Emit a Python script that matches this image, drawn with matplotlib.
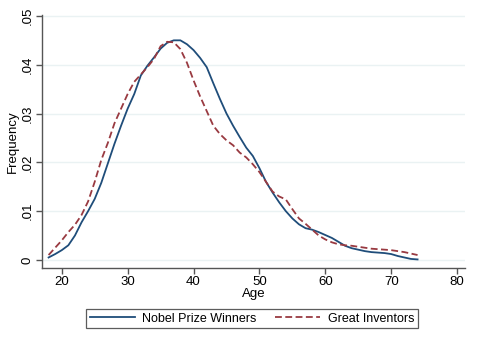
import matplotlib
matplotlib.use("Agg")
import matplotlib.pyplot as plt
from matplotlib.lines import Line2D

# Age grid and densities
ages = list(range(18, 75))
nobel = [
    0.0005, 0.0012, 0.0020, 0.0030, 0.0050, 0.0077, 0.0100, 0.0125, 0.0158, 0.0198,
    0.0238, 0.0275, 0.0310, 0.0340, 0.0378, 0.0398, 0.0415, 0.0433, 0.0445, 0.0450,
    0.0450, 0.0442, 0.0430, 0.0414, 0.0395, 0.0362, 0.0330, 0.0300, 0.0275, 0.0252,
    0.0230, 0.0213, 0.0188, 0.0160, 0.0138, 0.0118, 0.0100, 0.0085, 0.0073, 0.0065,
    0.0062, 0.0057, 0.0051, 0.0045, 0.0037, 0.0029, 0.0024, 0.0021, 0.0018, 0.0016,
    0.0015, 0.0014, 0.0012, 0.0008, 0.0005, 0.0002, 0.0001,
]
inventors = [
    0.0010, 0.0025, 0.0040, 0.0057, 0.0072, 0.0092, 0.0120, 0.0160, 0.0205, 0.0240,
    0.0280, 0.0310, 0.0340, 0.0365, 0.0380, 0.0395, 0.0412, 0.0438, 0.0447, 0.0446,
    0.0432, 0.0404, 0.0368, 0.0335, 0.0305, 0.0275, 0.0258, 0.0245, 0.0235, 0.0220,
    0.0210, 0.0196, 0.0180, 0.0160, 0.0140, 0.0130, 0.0124, 0.0104, 0.0085, 0.0074,
    0.0062, 0.0050, 0.0042, 0.0036, 0.0032, 0.0030, 0.0029, 0.0027, 0.0025, 0.0023,
    0.0022, 0.0021, 0.0020, 0.0018, 0.0016, 0.0013, 0.0010,
]
x_ticks = [20, 30, 40, 50, 60, 70, 80]
y_ticks = [0, 0.01, 0.02, 0.03, 0.04, 0.05]
y_tick_labels = ["0", ".01", ".02", ".03", ".04", ".05"]

NAVY = "#1f4d7a"
MAROON = "#993a41"
GRID = "#eaf2f3"
AXIS = "#555555"
DASH = (0, (3.8, 1.9))

plt.rcParams["font.family"] = ["Liberation Sans", "DejaVu Sans"]

fig = plt.figure(figsize=(5.0, 3.4), dpi=100, facecolor="white")
ax = fig.add_axes([0.084, 0.212, 0.846, 0.744])

ax.plot(ages, nobel, color=NAVY, linewidth=1.3, solid_joinstyle="round")
ax.plot(ages, inventors, color=MAROON, linewidth=1.3, linestyle=DASH)

ax.set_xlim(17.0, 81.2)
ax.set_ylim(-0.00164, 0.0502)
ax.set_xticks(x_ticks)
ax.set_yticks(y_ticks)
ax.set_yticklabels(y_tick_labels, rotation=90, va="center")
ax.grid(axis="y", color=GRID, linewidth=1.0)
ax.set_axisbelow(True)

for side in ["top", "right"]:
    ax.spines[side].set_visible(False)
for side in ["left", "bottom"]:
    ax.spines[side].set_color(AXIS)
    ax.spines[side].set_linewidth(1.0)
ax.tick_params(axis="both", colors=AXIS, labelcolor="black", labelsize=9.5,
               length=4, width=1.0, pad=2)

ax.set_xlabel("Age", fontsize=9.5, labelpad=0)
ax.set_ylabel("Frequency", fontsize=9.5, labelpad=2)

handles = [
    Line2D([], [], color=NAVY, linewidth=1.3),
    Line2D([], [], color=MAROON, linewidth=1.3, linestyle=DASH),
]
leg = fig.legend(handles, ["Nobel Prize Winners", "Great Inventors"],
                 loc="center", bbox_to_anchor=(0.504, 0.063), ncol=2,
                 fontsize=9, frameon=True, fancybox=False,
                 handlelength=3.6, columnspacing=1.5, borderpad=0.3,
                 handletextpad=0.6)
leg.get_frame().set_edgecolor("#333333")
leg.get_frame().set_linewidth(0.9)

fig.savefig("out.png", dpi=100, facecolor="white")
